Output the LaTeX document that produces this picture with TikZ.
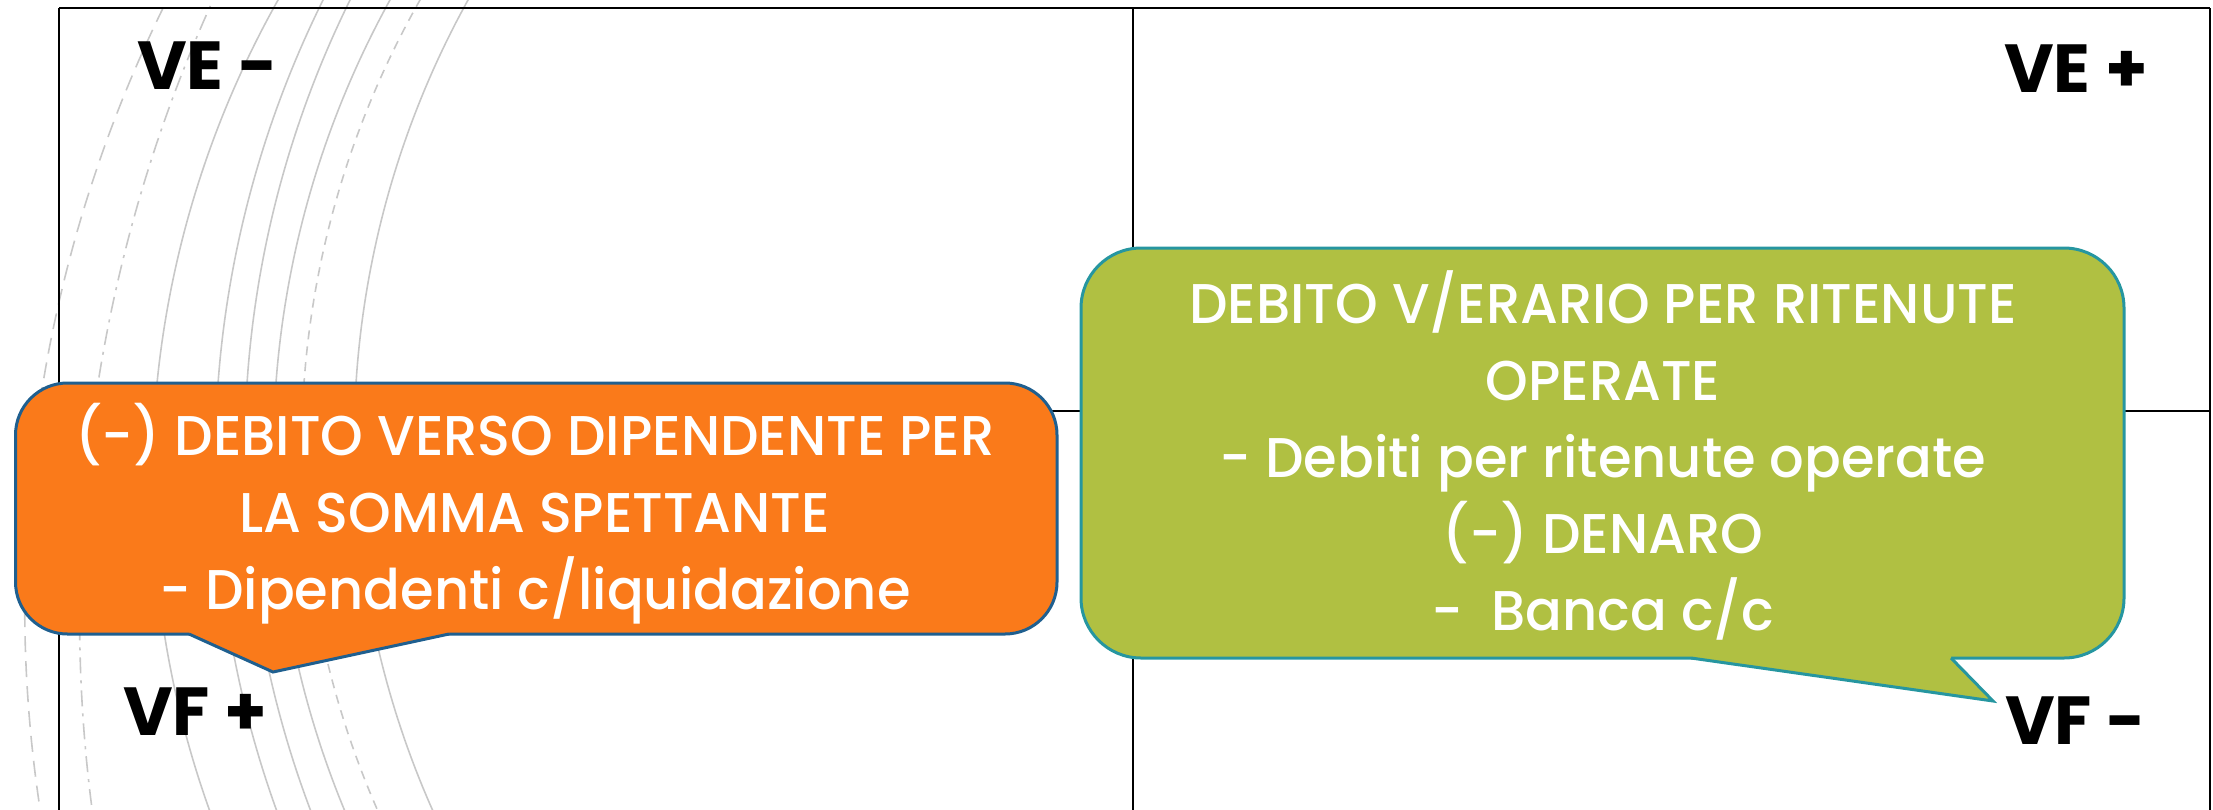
\documentclass[tikz,border=0pt]{standalone}
\usepackage{fontspec}
\newfontfamily\calfont[FakeStretch=0.97]{Poppins Medium}
\newfontfamily\labfont[FakeStretch=1.0]{Poppins}
\definecolor{ofill}{RGB}{250,122,26}
\definecolor{oline}{RGB}{31,95,143}
\definecolor{gfill}{RGB}{176,192,66}
\definecolor{gline}{RGB}{38,150,160}
\definecolor{arcgray}{RGB}{200,200,200}
\tikzset{
  gridline/.style={draw=black,line width=2pt},
  arcline/.style={draw=arcgray,line width=1.6pt},
  longdash/.style={dash pattern=on 16pt off 9pt},
  dashdotted2/.style={dash pattern=on 16pt off 7pt on 3pt off 7pt},
  shortdash/.style={dash pattern=on 9pt off 7pt},
  obox/.style={rectangle,rounded corners=52pt,fill=ofill,draw=oline,line width=3pt,inner sep=0pt},
  gbox/.style={rectangle,rounded corners=60pt,fill=gfill,draw=gline,line width=3pt,inner sep=0pt},
  ctext/.style={text=white,inner sep=0pt,anchor=base,font=\calfont\fontsize{56}{77}\selectfont},
  lab/.style={text=black,inner sep=0pt,font=\labfont\bfseries\fontsize{68}{80}\selectfont}
}
% left arc of circle centre (h,k), radius R, for y from -15 to 825
\newcommand{\bgarc}[4][]{%
  \draw[arcline,#1] plot[domain=-15:825,samples=90,variable=\yy]
    ({#2-#4*sqrt(1-((\yy-#3)/#4)^2)},{\yy});}
\begin{document}
\begin{tikzpicture}[x=1pt,y=-1pt]
\useasboundingbox (0,0) rectangle (2213,809);
\begin{scope}
\clip (0,0) rectangle (2213,809);
% background arcs
\bgarc[longdash]{1383.4}{605.4}{1358.7}
\bgarc[dashdotted2]{1571.9}{616.8}{1492.3}
\bgarc{1131.3}{480.2}{979.1}
\bgarc{1248.4}{459.6}{1033.2}
\bgarc{1262.0}{450.6}{1017.2}
\bgarc{1209.5}{452.4}{936.1}
\bgarc[shortdash]{1207.2}{447.5}{905.5}
\bgarc{1264.2}{440.7}{910.0}
% quadrant grid
\draw[gridline] (59,8) -- (2210,8);
\draw[gridline] (59,8) -- (59,820);
\draw[gridline] (2210,8) -- (2210,820);
\draw[gridline] (1133,8) -- (1133,820);
\draw[gridline] (59,411) -- (2210,411);
\end{scope}
% orange callout
\node[obox,minimum width=1041.5pt,minimum height=251pt] (orange) at (536.25,508.5) {};
\coordinate (oa) at (189,634);
\coordinate (otip) at (273,672);
\coordinate (ob) at (449,634);
\fill[ofill] (189,628) -- (oa) -- (otip) -- (ob) -- (449,628) -- cycle;
\draw[oline,line width=3pt,line join=miter] (oa) -- (otip) -- (ob);
\node[ctext] (o1) at (535,455) {(-) DEBITO VERSO DIPENDENTE PER};
\node[ctext] (o2) at (535,532) {LA SOMMA SPETTANTE};
\node[ctext] (o3) at (535,609) {- Dipendenti c/liquidazione};
% green callout
\node[gbox,minimum width=1043pt,minimum height=410pt] (green) at (1602.5,453) {};
\coordinate (ga) at (1691,658);
\coordinate (gtip) at (1993,701);
\coordinate (gb) at (1951,658);
\fill[gfill] (1691,652) -- (ga) -- (gtip) -- (gb) -- (1951,652) -- cycle;
\draw[gline,line width=3pt,line join=miter] (ga) -- (gtip) -- (gb);
\node[ctext] (g1) at (1603,323) {DEBITO V/ERARIO PER RITENUTE};
\node[ctext] (g2) at (1603,400) {OPERATE};
\node[ctext] (g3) at (1603,477) {- Debiti per ritenute operate};
\node[ctext] (g4) at (1603,553) {(-) DENARO};
\node[ctext] (g5) at (1603,630) {-\ \ Banca c/c};
% quadrant labels
\node[lab,anchor=base west] (vem) at (137,89) {VE -};
\node[lab,anchor=base east] (vep) at (2148,92) {VE +};
\node[lab,anchor=base west] (vfp) at (123,735) {VF +};
\node[lab,anchor=base east] (vfm) at (2146,744) {VF -};
\end{tikzpicture}
\end{document}
